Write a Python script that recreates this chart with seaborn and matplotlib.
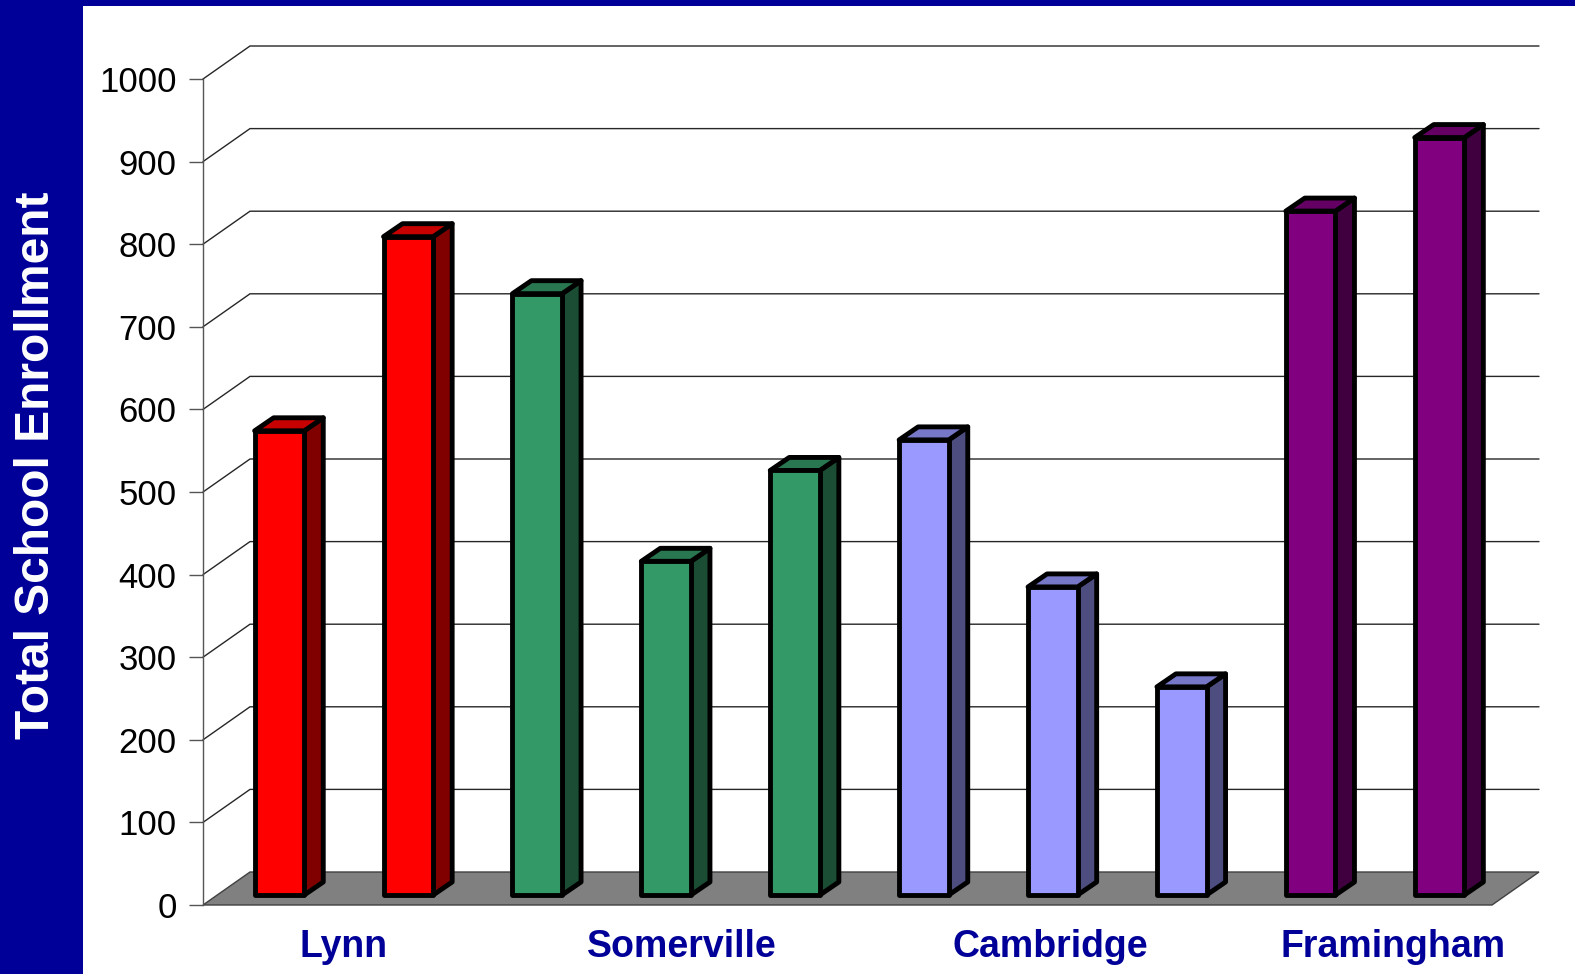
import matplotlib
matplotlib.use("Agg")
import matplotlib.pyplot as plt
from matplotlib.patches import Polygon, Rectangle
from matplotlib.transforms import ScaledTranslation, blended_transform_factory
from matplotlib.colors import to_rgb
import numpy as np
import pandas as pd
import seaborn as sns

# ---- data -------------------------------------------------------------
cities = ["Lynn", "Somerville", "Cambridge", "Framingham"]
lynn = [562, 797]
somerville = [728, 404, 514]
cambridge = [551, 373, 252]
framingham = [828, 917]
city_colors = ["#FF0000", "#339966", "#9999FF", "#800080"]
y_ticks = [0, 100, 200, 300, 400, 500, 600, 700, 800, 900, 1000]
y_label = "Total School Enrollment"

rows = []
for city, vals in zip(cities, [lynn, somerville, cambridge, framingham]):
    for v in vals:
        rows.append((city, v))
df = pd.DataFrame(rows, columns=["city", "enrollment"])
df["slot"] = np.arange(len(df))

# ---- styling ----------------------------------------------------------
sns.set_theme(style="white")
plt.rcParams["font.family"] = ["Liberation Sans", "DejaVu Sans"]

NAVY = "#000099"
EDGE_LW = 3.5
W, H = 1575, 974
fig = plt.figure(figsize=(W / 100, H / 100), dpi=100)
fig.patch.set_facecolor("white")

# navy frame: left band and thin top strip
fig.patches.append(Rectangle((0, 0), 83 / W, 1, transform=fig.transFigure,
                             facecolor=NAVY, edgecolor="none", zorder=0))
fig.patches.append(Rectangle((0, 1 - 6 / H), 1, 6 / H, transform=fig.transFigure,
                             facecolor=NAVY, edgecolor="none", zorder=0))

ax = fig.add_axes([203 / W, 69 / H, 1289 / W, 826 / H])
ax.set_facecolor("none")

palette = dict(zip(cities, city_colors))
sns.barplot(data=df, x="slot", y="enrollment", hue="city", palette=palette,
            dodge=False, width=0.385, edgecolor="black", linewidth=EDGE_LW,
            saturation=1, legend=False, ax=ax, zorder=6)
bars = list(ax.patches)

n_slots = len(df)
ax.set_xlim(-0.5, n_slots - 0.5)
ax.set_ylim(0, 1000)

# pixel -> data conversion for the oblique depth of the 3-D look
pos = ax.get_position()
x_per_px = (n_slots) / (pos.width * W)
y_per_px = 1000 / (pos.height * H)

# room depth (floor and walls)
FDX, FDY = 47 * x_per_px, 33 * y_per_px
# bar depth
BDX, BDY = 19 * x_per_px, 13 * y_per_px

x_left, x_right = -0.5, n_slots - 0.5

# floor
floor = Polygon([(x_left, 0), (x_right, 0), (x_right + FDX, FDY), (x_left + FDX, FDY)],
                closed=True, facecolor="#808080", edgecolor="#404040", lw=1.0,
                clip_on=False, zorder=2)
ax.add_patch(floor)

# left wall diagonals and back wall gridlines
for v in y_ticks[1:]:
    ax.plot([x_left, x_left + FDX, x_right + FDX], [v, v + FDY, v + FDY],
            color="#262626", lw=1.0, clip_on=False, zorder=1, solid_joinstyle="miter")

# bars: shift the front faces slightly into the room, add side and top faces
bar_trans = ax.transData + ScaledTranslation(12 / 100, 10 / 100, fig.dpi_scale_trans)
for p in bars:
    x0 = p.get_x()
    w = p.get_width()
    h = p.get_height()
    x1 = x0 + w
    front = np.array(to_rgb(p.get_facecolor()))
    p.set_transform(bar_trans)
    p.set_clip_on(False)
    p.set_joinstyle("round")
    side = Polygon([(x1, 0), (x1 + BDX, BDY), (x1 + BDX, h + BDY), (x1, h)],
                   closed=True, facecolor=front * 0.5, edgecolor="black", lw=EDGE_LW,
                   joinstyle="round", transform=bar_trans, clip_on=False, zorder=5)
    top = Polygon([(x0, h), (x1, h), (x1 + BDX, h + BDY), (x0 + BDX, h + BDY)],
                  closed=True, facecolor=front * 0.78, edgecolor="black", lw=EDGE_LW,
                  joinstyle="round", transform=bar_trans, clip_on=False, zorder=5)
    ax.add_patch(side)
    ax.add_patch(top)

# axes frame: only the front vertical axis
for s in ["top", "right", "bottom"]:
    ax.spines[s].set_visible(False)
ax.spines["left"].set_color("#555555")
ax.spines["left"].set_linewidth(1.0)
ax.set_yticks(y_ticks)
ax.set_yticklabels([str(t) for t in y_ticks])
ax.tick_params(axis="y", length=10, width=1.0, color="#555555", pad=9,
               labelsize=25, labelcolor="black", left=True)
ax.set_xticks([])
ax.set_xlabel("")
ax.set_ylabel("")

# category labels under each group of bars
label_nudge = [0.0, 0.12, -0.02, 0.14]
bar_shift = 12 * x_per_px
start = 0
lab_trans = blended_transform_factory(ax.transData, fig.transFigure)
for city, vals, nudge in zip(cities, [lynn, somerville, cambridge, framingham], label_nudge):
    center = start + (len(vals) - 1) / 2 + bar_shift + nudge
    ax.text(center, (H - 957) / H, city, transform=lab_trans, ha="center", va="baseline",
            fontsize=27, fontweight="bold", color=NAVY)
    start += len(vals)

# vertical title in the navy band
fig.text(37 / W, 1 - 465 / H, y_label, rotation=90, ha="center", va="center",
         fontsize=34.5, fontweight="bold", color="white")

fig.savefig("out.png", dpi=100)
